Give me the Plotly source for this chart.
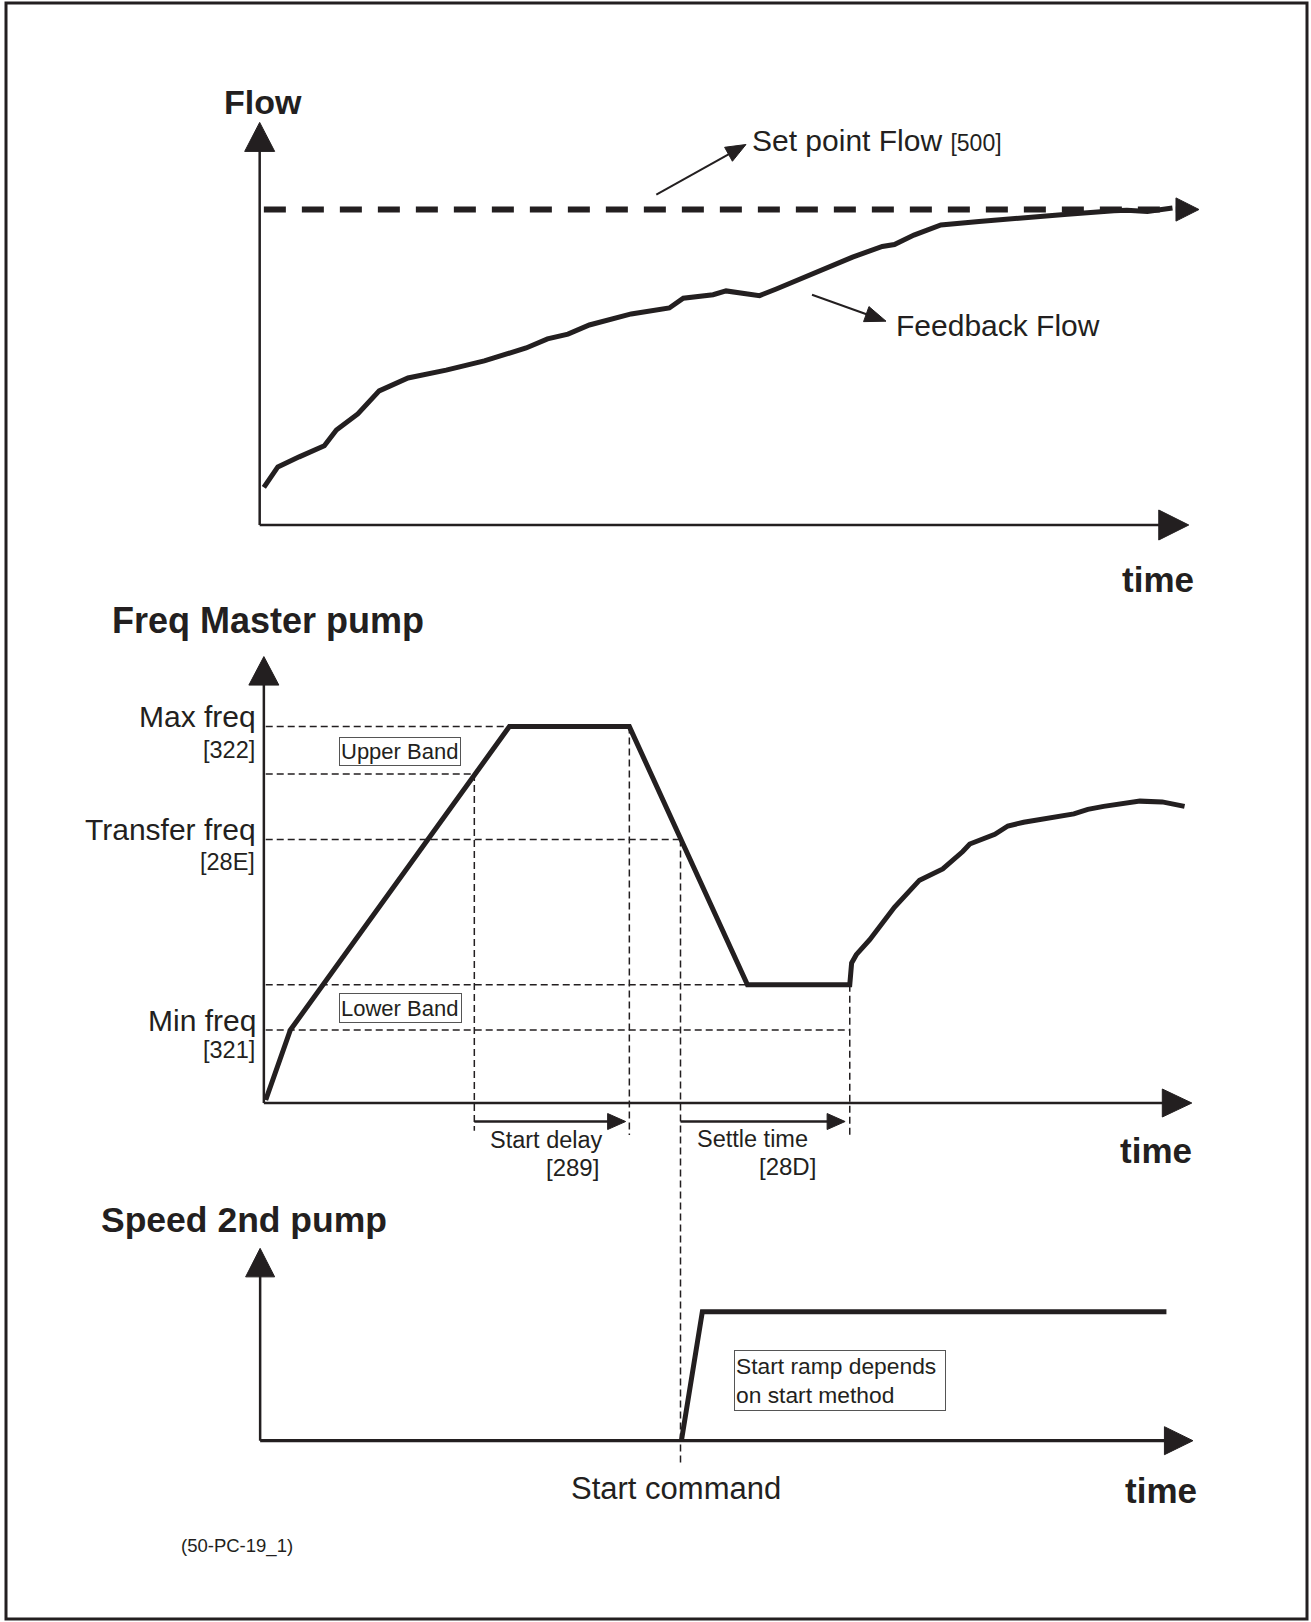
import math
import plotly.graph_objects as go

W, H = 1311, 1622
INK = "#231f20"
FONT = "Liberation Sans, Arial, sans-serif"

# ------------------------------------------------------------------ data
# Shared time axis (arbitrary units): 0 = vertical axis, 100 = arrow tip
# Panel 1 - Flow (set point = 100 %)
flow_time = [0.2, 1.7, 4.0, 6.7, 8.0, 10.3, 12.6, 15.7, 19.8, 23.9, 28.4, 30.7,
             32.9, 35.2, 39.7, 42.8, 43.8, 45.3, 48.5, 49.9, 53.5, 55.3, 58.9,
             59.9, 63.5, 66.7, 68.0, 70.1, 73.0, 77.1, 82.5, 86.6, 91.6, 93.0,
             95.2, 97.9]
feedback_flow = [11.9, 18.4, 21.6, 25.1, 30.1, 35.2, 42.5, 46.6, 49.1, 52.0, 56.1,
                 59.0, 60.5, 63.4, 66.9, 68.1, 68.8, 71.9, 73.0, 74.2, 72.7, 74.8,
                 79.2, 80.2, 84.9, 88.3, 88.9, 91.9, 95.1, 96.2, 97.3, 98.5, 99.6,
                 99.8, 99.4, 100.5]
setpoint_flow = 100.0
setpoint_time = [0.2, 98.4]

# Panel 2 - Frequency of master pump (Hz)
freq_time = [0.4, 3.05, 26.6, 39.5, 52.2, 63.2, 63.4, 63.9, 65.35, 68.0, 70.7,
             73.2, 75.35, 76.1, 78.8, 80.2, 81.9, 87.3, 88.8, 90.5, 94.4, 96.8, 99.2]
freq_master = [0.4, 9.7, 50.0, 50.0, 15.7, 15.7, 18.6, 19.7, 21.7, 26.0, 29.6,
               31.1, 33.4, 34.4, 35.7, 36.8, 37.3, 38.4, 39.0, 39.4, 40.1, 40.0, 39.4]
max_freq = 50.0
upper_band = 43.7
transfer_freq = 35.0
lower_band = 15.7
min_freq = 9.7

# event times
t_upper = 22.83      # ramp crosses upper band -> start delay begins
t_max_end = 39.5     # end of start delay
t_start_cmd = 45.0   # transfer freq crossed -> start command
t_settle_end = 63.2  # end of settle time

# Panel 3 - Speed of 2nd pump (%)
speed_time = [45.1, 47.35, 97.25]
speed_2nd = [0.0, 100.0, 100.0]

# ------------------------------------------------------------------ scales
T0, TS = 262.0, 9.3                  # px of t=0, px per time unit
P1 = (525.0, 3.155)                  # (px of value 0, px per unit)
P2 = (1103.0, 7.528)
P3 = (1440.7, 1.29)


def to_px(t, v, panel):
    return T0 + t * TS, panel[0] - v * panel[1]


def to_data(x, y, panel):
    return (x - T0) / TS, (panel[0] - y) / panel[1]


def yr(panel):
    return [(panel[0] - H) / panel[1], panel[0] / panel[1]]


fig = go.Figure()
AX = {1: "y", 2: "y2", 3: "y3"}
PN = {1: P1, 2: P2, 3: P3}


def line(xs, ys, p, width=2.5, dash=None, color=INK):
    fig.add_trace(go.Scatter(x=xs, y=ys, yaxis=AX[p], mode="lines",
                             line=dict(color=color, width=width, dash=dash),
                             hoverinfo="skip", showlegend=False, cliponaxis=False))


def head(tip, frm, p, length, half):
    panel = PN[p]
    tx, ty = to_px(tip[0], tip[1], panel)
    fx, fy = to_px(frm[0], frm[1], panel)
    dx, dy = tx - fx, ty - fy
    n = math.hypot(dx, dy)
    ux, uy = dx / n, dy / n
    bx, by = tx - ux * length, ty - uy * length
    nx, ny = -uy, ux
    pts = [(tx, ty), (bx + nx * half, by + ny * half), (bx - nx * half, by - ny * half), (tx, ty)]
    d = [to_data(a, b, panel) for a, b in pts]
    fig.add_trace(go.Scatter(x=[q[0] for q in d], y=[q[1] for q in d], yaxis=AX[p],
                             mode="lines", fill="toself", fillcolor=INK,
                             line=dict(color=INK, width=1), hoverinfo="skip",
                             showlegend=False, cliponaxis=False))
    return to_data(bx + ux * 1.0, by + uy * 1.0, panel)


def arrow(frm, tip, p, width, length, half, dash=None):
    base = head(tip, frm, p, length, half)
    line([frm[0], base[0]], [frm[1], base[1]], p, width=width, dash=dash)


# ------------------------------------------------------------------ panel 1
# axes
arrow((-0.25, 0), (-0.25, 127.6), 1, 2.5, 29, 15)
arrow((-0.25, 0), (99.65, 0), 1, 2.5, 30, 15)
# set point (dashed, thick, arrow)
line(setpoint_time, [setpoint_flow, setpoint_flow], 1, width=6, dash="22px,16px")
head((100.75, setpoint_flow), (90, setpoint_flow), 1, 23, 11.6)
# feedback
line(flow_time, feedback_flow, 1, width=5)
# pointer arrows
arrow((42.4, 104.7), (52.04, 120.6), 1, 2, 20, 8)
arrow((59.14, 73.0), (67.1, 64.6), 1, 2, 21, 8)

# ------------------------------------------------------------------ panel 2
DASH = "7px,4px"
for lvl, t_end in [(max_freq, 26.6), (upper_band, t_upper), (transfer_freq, t_start_cmd),
                   (lower_band, 52.2), (min_freq, t_settle_end)]:
    line([0.4, t_end], [lvl, lvl], 2, width=1.5, dash=DASH)
for t_v, v_top, v_bot in [(t_upper, upper_band, -3.7), (t_max_end, max_freq, -4.25),
                          (t_settle_end, lower_band, -4.25), (t_start_cmd, transfer_freq, -47.9)]:
    line([t_v, t_v], [v_top, v_bot], 2, width=1.5, dash=DASH)
arrow((0.2, 0), (0.2, 59.3), 2, 2.5, 28.5, 15)
arrow((0.2, 0), (99.98, 0), 2, 2.5, 29.5, 14)
line(freq_time, freq_master, 2, width=5)
# interval arrows
arrow((t_upper, -2.46), (39.1, -2.46), 2, 2.5, 18, 8)
arrow((t_start_cmd, -2.46), (62.7, -2.46), 2, 2.5, 18, 8)

# ------------------------------------------------------------------ panel 3
arrow((-0.2, 0), (-0.2, 149.1), 3, 2.5, 28.5, 14.5)
arrow((-0.2, 0), (100.1, 0), 3, 3.2, 28.5, 14)
line(speed_time, speed_2nd, 3, width=5)

# ------------------------------------------------------------------ text
ann = []


def txt(text, x, y, size, xanchor="left", bold=False, **kw):
    if bold:
        text = "<b>" + text + "</b>"
    d = dict(text=text, x=x / W, y=1 - y / H, xref="paper", yref="paper",
             xanchor=xanchor, yanchor="middle", showarrow=False,
             font=dict(family=FONT, size=size, color=INK))
    d.update(kw)
    ann.append(d)


txt("Flow", 222, 102, 34, bold=True)
txt("Set point Flow <span style='font-size:23px'>[500]</span>", 750, 141, 30)
txt("Feedback Flow", 894, 325, 30)
txt("time", 1196, 579, 35, xanchor="right", bold=True)

txt("Freq Master pump", 110, 620, 36, bold=True)
txt("Max freq", 258, 716, 30, xanchor="right")
txt("[322]", 257, 750, 23.5, xanchor="right")
txt("Transfer freq", 258, 829, 30, xanchor="right")
txt("[28E]", 257, 862, 23.5, xanchor="right")
txt("Min freq", 258, 1020, 30, xanchor="right")
txt("[321]", 257, 1050, 23.5, xanchor="right")
txt("Upper Band", 339, 751, 22, bordercolor="#555555", borderwidth=1, borderpad=1,
    width=118, height=25, align="left")
txt("Lower Band", 339, 1007.5, 22, bordercolor="#555555", borderwidth=1, borderpad=1,
    width=119, height=26, align="left")
txt("Start delay", 488, 1140, 23.5)
txt("[289]", 601, 1167, 24, xanchor="right")
txt("Settle time", 695, 1138.5, 23.5)
txt("[28D]", 818, 1166.5, 24, xanchor="right")
txt("time", 1194, 1150, 35, xanchor="right", bold=True)

txt("Speed 2nd pump", 99, 1220, 35.5, bold=True)
txt("Start ramp depends<br>on start method", 734, 1380, 22.8, bordercolor="#555555",
    borderwidth=1, borderpad=1, width=208, height=57, align="left")
txt("Start command", 676, 1488, 31, xanchor="center")
txt("time", 1199, 1490, 35, xanchor="right", bold=True)
txt("(50-PC-19_1)", 179, 1546, 18.5)

fig.update_layout(
    width=W, height=H, margin=dict(l=0, r=0, t=0, b=0),
    paper_bgcolor="white", plot_bgcolor="white", showlegend=False,
    annotations=ann,
    xaxis=dict(range=[-T0 / TS, (W - T0) / TS], domain=[0, 1], visible=False, fixedrange=True),
    yaxis=dict(range=yr(P1), domain=[0, 1], visible=False, fixedrange=True),
    yaxis2=dict(range=yr(P2), domain=[0, 1], visible=False, overlaying="y", fixedrange=True),
    yaxis3=dict(range=yr(P3), domain=[0, 1], visible=False, overlaying="y", fixedrange=True),
    shapes=[dict(type="rect", xref="paper", yref="paper", x0=6 / W, x1=1307 / W,
                 y0=1 - 1619 / H, y1=1 - 3 / H, line=dict(color=INK, width=3))],
)

fig.write_html("out.html", config={"displayModeBar": False},
               post_script="document.body.style.margin='0';document.body.style.overflow='hidden';")
